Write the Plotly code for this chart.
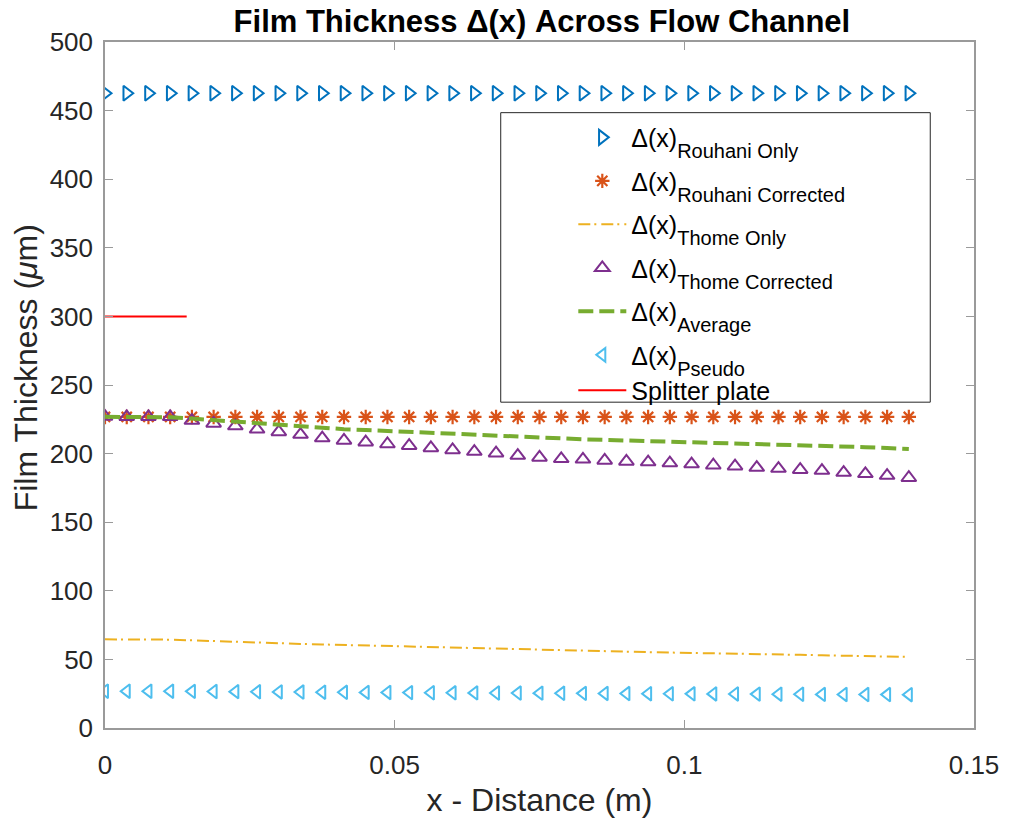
import plotly.graph_objects as go

# ---------------- data ----------------
x_dist = [0.0, 0.00375, 0.0075, 0.01125, 0.015, 0.01875, 0.0225, 0.02625, 0.03, 0.03375,
          0.0375, 0.04125, 0.045, 0.04875, 0.0525, 0.05625, 0.06, 0.06375, 0.0675, 0.07125,
          0.075, 0.07875, 0.0825, 0.08625, 0.09, 0.09375, 0.0975, 0.10125, 0.105, 0.10875,
          0.1125, 0.11625, 0.12, 0.12375, 0.1275, 0.13125, 0.135, 0.13875]

rouhani_only = [462.7, 462.7, 462.7, 462.7, 462.7, 462.7, 462.7, 462.7, 462.7, 462.7,
                462.7, 462.7, 462.7, 462.7, 462.7, 462.7, 462.7, 462.7, 462.7, 462.7,
                462.7, 462.7, 462.7, 462.7, 462.7, 462.7, 462.7, 462.7, 462.7, 462.7,
                462.7, 462.7, 462.7, 462.7, 462.7, 462.7, 462.7, 462.7]

rouhani_corrected = [226.7, 226.7, 226.7, 226.7, 226.7, 226.7, 226.7, 226.7, 226.7, 226.7,
                     226.7, 226.7, 226.7, 226.7, 226.7, 226.7, 226.7, 226.7, 226.7, 226.7,
                     226.7, 226.7, 226.7, 226.7, 226.7, 226.7, 226.7, 226.7, 226.7, 226.7,
                     226.7, 226.7, 226.7, 226.7, 226.7, 226.7, 226.7, 226.7]

thome_only = [64.6, 64.6, 64.5, 64.4, 63.9, 63.3, 62.8, 62.3, 61.8, 61.3,
              60.9, 60.5, 60.0, 59.6, 59.2, 58.8, 58.4, 58.0, 57.6, 57.2,
              56.9, 56.5, 56.2, 55.9, 55.6, 55.3, 55.0, 54.8, 54.5, 54.2,
              53.9, 53.6, 53.3, 53.0, 52.7, 52.4, 52.1, 51.8]

thome_corrected = [227.0, 226.8, 226.8, 226.8, 224.1, 222.0, 220.1, 217.7, 215.8, 213.9,
                   211.3, 209.6, 208.3, 207.0, 205.8, 204.1, 202.7, 201.5, 200.3, 198.6,
                   197.2, 196.2, 195.8, 195.0, 194.3, 193.8, 193.1, 192.4, 191.5, 190.8,
                   189.8, 189.1, 188.3, 187.6, 186.2, 185.3, 184.0, 182.4]

average = [226.8, 226.7, 226.6, 226.5, 225.5, 224.3, 223.3, 222.1, 221.0, 220.0,
           218.8, 217.8, 217.2, 216.5, 215.8, 214.9, 214.1, 213.4, 212.8, 212.0,
           211.3, 210.8, 210.4, 210.0, 209.6, 209.3, 208.9, 208.5, 208.0, 207.6,
           207.1, 206.7, 206.3, 205.8, 205.2, 204.7, 204.1, 203.4]

pseudo = [26.8, 26.8, 26.8, 26.8, 26.7, 26.6, 26.5, 26.4, 26.3, 26.2,
          26.1, 26.0, 25.95, 25.9, 25.8, 25.7, 25.65, 25.6, 25.5, 25.45,
          25.4, 25.3, 25.25, 25.2, 25.1, 25.0, 24.95, 24.9, 24.85, 24.8,
          24.7, 24.65, 24.6, 24.5, 24.45, 24.4, 24.35, 24.3]

splitter_x = [0.0, 0.0141]
splitter_y = [300, 300]

x_ticks = [0, 0.05, 0.1, 0.15]
x_tick_labels = ["0", "0.05", "0.1", "0.15"]
y_ticks = [0, 50, 100, 150, 200, 250, 300, 350, 400, 450, 500]

# ---------------- figure ----------------
FONT = "Liberation Sans, Arial, Helvetica, sans-serif"
SUB = '<sub><span style="font-size:20px;baseline-shift:-6px">{}</span></sub>'

def name(s):
    return "Δ(x)" + SUB.format(s)

fig = go.Figure()

fig.add_trace(go.Scatter(
    x=x_dist, y=rouhani_only, mode="markers", name=name("Rouhani Only"), legendgroup="a",
    marker=dict(symbol="triangle-right-open", size=13, color="#0072BD", line=dict(width=2, color="#0072BD"))))
fig.add_trace(go.Scatter(
    x=x_dist, y=rouhani_corrected, mode="markers", name=name("Rouhani Corrected"), legendgroup="b",
    marker=dict(symbol="asterisk-open", size=12, color="#D95319", line=dict(width=2.2, color="#D95319"))))
fig.add_trace(go.Scatter(
    x=x_dist, y=thome_only, mode="lines", name=name("Thome Only"), legendgroup="c",
    line=dict(color="#EDB120", width=2, dash="12px,4px,2px,5px")))
fig.add_trace(go.Scatter(
    x=x_dist, y=thome_corrected, mode="markers", name=name("Thome Corrected"), legendgroup="d",
    marker=dict(symbol="triangle-up-open", size=13, color="#7E2F8E", line=dict(width=2, color="#7E2F8E"))))
fig.add_trace(go.Scatter(
    x=x_dist, y=average, mode="lines", name=name("Average"), legendgroup="e",
    line=dict(color="#77AC30", width=4, dash="15px,6px")))
fig.add_trace(go.Scatter(
    x=x_dist, y=pseudo, mode="markers", name=name("Pseudo"), legendgroup="f",
    marker=dict(symbol="triangle-left-open", size=12, color="#4DBEEE", line=dict(width=2, color="#4DBEEE"))))
fig.add_trace(go.Scatter(
    x=splitter_x, y=splitter_y, mode="lines", name="Splitter plate", legendgroup="f",
    line=dict(color="#FF0000", width=2)))

axis_common = dict(
    showline=True, linecolor="#9a9a9a", linewidth=1.5, mirror="ticks",
    ticks="inside", ticklen=8, tickwidth=1.2, tickcolor="#9a9a9a",
    showgrid=False, zeroline=False,
    tickfont=dict(family=FONT, size=26, color="#262626"),
)

fig.update_layout(
    width=1011, height=824,
    margin=dict(l=105, r=32, t=42, b=83),
    paper_bgcolor="white", plot_bgcolor="white",
    font=dict(family=FONT, color="#262626"),
    title=dict(text="<b>Film Thickness Δ(x) Across Flow Channel</b>",
               x=0.536, xanchor="center", y=1 - 21 / 824, yanchor="middle", yref="container",
               font=dict(family=FONT, size=31, color="#000000")),
    xaxis=dict(range=[0, 0.15], tickvals=x_ticks, ticktext=x_tick_labels, ticklabelstandoff=13,
               title=dict(text="x - Distance (m)", font=dict(family=FONT, size=32, color="#262626"), standoff=10),
               **axis_common),
    yaxis=dict(range=[0, 500], tickvals=y_ticks, ticklabelstandoff=5,
               **axis_common),
    annotations=[dict(text="Film Thickness (<i>μ</i>m)", textangle=-90,
                      xref="paper", yref="paper", x=(25 - 105) / 874, y=(741 - 374) / 699,
                      xanchor="center", yanchor="middle", showarrow=False,
                      font=dict(family=FONT, size=32, color="#262626"))],
    legend=dict(x=(576 - 105) / 874, y=(741 - 116) / 699, xanchor="left", yanchor="top",
                bgcolor="rgba(0,0,0,0)", borderwidth=0, itemwidth=48, tracegroupgap=8,
                font=dict(family=FONT, size=25, color="#000000")),
    shapes=[dict(type="rect", xref="paper", yref="paper",
                 x0=(503 - 105) / 874, x1=(935 - 105) / 874,
                 y0=(741 - 409) / 699, y1=(741 - 114) / 699,
                 line=dict(color="#262626", width=1), fillcolor="white", layer="above")],
    showlegend=True,
)

fig.write_html("out.html")
